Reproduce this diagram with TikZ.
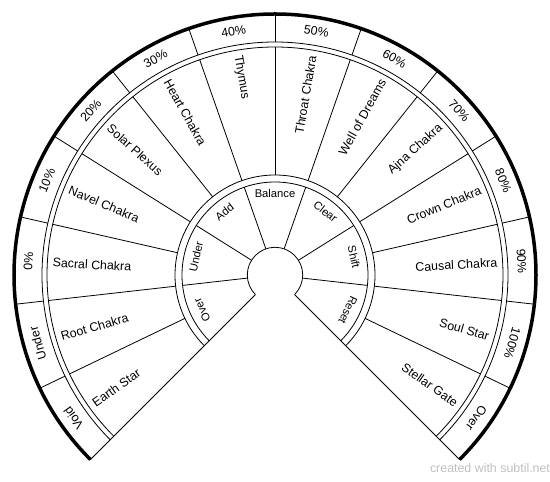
\documentclass[tikz,border=0pt]{standalone}
\usepackage{fontspec}
\setmainfont{Liberation Sans}

\begin{document}
\begin{tikzpicture}[x=1pt,y=1pt,line width=0.8pt,
  lbl/.style={font=\fontsize{12.4}{14}\selectfont,inner sep=0pt},
  small/.style={font=\fontsize{11.2}{13}\selectfont,inner sep=0pt}]

\useasboundingbox (0,0) rectangle (550,482);

\begin{scope}[shift={(275,207)}]

% Contour
\draw[line width=3.5pt] (225:261) arc[start angle=225,end angle=-45,radius=261pt];
\foreach \r in {233,228,100,93}
{
\draw (225:\r) arc[start angle=225,end angle=-45,radius=\r pt];
}
\draw (225:27.7) arc[start angle=225,end angle=-45,radius=27.7pt];
\draw (225:27.7) -- (225:261);
\draw (-45:27.7) -- (-45:261);

% Dividers
\foreach \k in {1,...,13}
{
\draw ({225-\k*270/14}:233) -- ({225-\k*270/14}:261);
\draw ({225-\k*270/14}:100) -- ({225-\k*270/14}:228);
}
\foreach \k in {1,...,6}
{
\draw ({225-\k*270/7}:27.7) -- ({225-\k*270/7}:93);
}

% Percent ring
\foreach \t [count=\i] in {
Void,Under,0\%,10\%,20\%,30\%,40\%,50\%,60\%,70\%,80\%,90\%,100\%,Over
}
{
\pgfmathsetmacro\a{225-(\i-0.5)*270/14}
\node[lbl,rotate=\a-90] (pct\i) at (\a:247) {\t};
}

% Chakras
\foreach \t [count=\i] in {
Earth Star,Root Chakra,Sacral Chakra,Navel Chakra,Solar Plexus,Heart Chakra,Thymus
}
{
\pgfmathsetmacro\a{225-(\i-0.5)*270/14}
\node[lbl,anchor=west,rotate=\a-180] (chk\i) at (\a:223) {\t};
}
\foreach \t [count=\i from 8] in {
Throat Chakra,Well of Dreams,Ajna Chakra,Crown Chakra,Causal Chakra,Soul Star,Stellar Gate
}
{
\pgfmathsetmacro\a{225-(\i-0.5)*270/14}
\node[lbl,anchor=east,rotate=\a] (chk\i) at (\a:223) {\t};
}

% Actions
\foreach \t [count=\i] in {Over,Under,Add,Balance,Clear,Shift,Reset}
{
\pgfmathsetmacro\a{225-(\i-0.5)*270/7}
\node[small,rotate=\a-90] (act\i) at (\a:81) {\t};
}

\end{scope}

\node[lbl,text=black!25] (credit) at (490,14) {created with subtil.net};

\end{tikzpicture}
\end{document}
